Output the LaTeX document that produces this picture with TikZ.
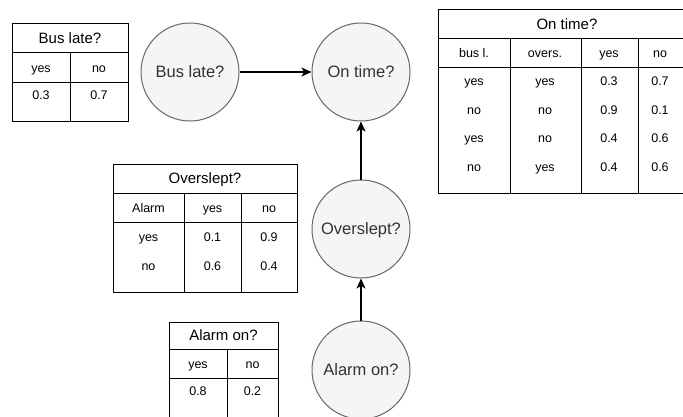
\documentclass[tikz,border=0pt]{standalone}
\usepackage{fontspec}
\setmainfont{Liberation Sans}
\usetikzlibrary{arrows.meta}

\tikzset{
    var/.style={circle, draw=black!60, line width=1pt, fill=black!4, minimum size=98pt, inner sep=0pt,
        text=black!80, text height=11.8pt, text depth=0pt, font=\fontsize{16.5}{18}\selectfont},
    link/.style={-{Stealth[length=10pt, width=9pt, inset=2.5pt]}, line width=1.1pt},
    tbl/.style={line width=1pt},
    ttl/.style={inner sep=0pt, text height=10.7pt, text depth=0pt, font=\fontsize{15}{17}\selectfont},
    cell/.style={inner sep=0pt, text height=9pt, text depth=0pt, font=\fontsize{12.5}{14}\selectfont}
}

\begin{document}
\begin{tikzpicture}[x=1pt, y=-1pt]
    \useasboundingbox (0, 0) rectangle (683, 416);

    % variables
    \node[var] (bus) at (190, 72) {Bus late?};
    \node[var] (ontime) at (361, 72) {On time?};
    \node[var] (overslept) at (361, 229) {Overslept?};
    \node[var] (alarm) at (361, 370) {Alarm on?};

    \draw[link] (bus) -- (ontime);
    \draw[link] (overslept) -- (ontime);
    \draw[link] (alarm) -- (overslept);

    % Bus late? table
    \draw[tbl] (12, 23) rectangle (128, 121);
    \draw[tbl] (12, 52) -- (128, 52) (12, 82) -- (128, 82) (70, 52) -- (70, 121);
    \node[ttl] (bus-t) at (70, 38) {Bus late?};
    \node[cell] (bus-h1) at (41, 67.5) {yes};
    \node[cell] (bus-h2) at (99, 67.5) {no};
    \node[cell] (bus-p1) at (41, 95) {0.3};
    \node[cell] (bus-p2) at (99, 95) {0.7};

    % On time? table
    \draw[tbl] (438, 9) rectangle (696, 193);
    \draw[tbl] (438, 38) -- (696, 38) (438, 67) -- (696, 67);
    \foreach \x in {510, 581, 638} {
        \draw[tbl] (\x, 38) -- (\x, 193);
    }
    \node[ttl] (ot-t) at (567, 24) {On time?};
    \node[cell] (ot-h1) at (474, 52.5) {bus l.};
    \node[cell] (ot-h2) at (545, 52.5) {overs.};
    \node[cell] (ot-h3) at (609, 52.5) {yes};
    \node[cell] (ot-h4) at (660, 52.5) {no};
    \foreach \b/\o/\p/\q [count=\i] in {yes/yes/0.3/0.7, no/no/0.9/0.1, yes/no/0.4/0.6, no/yes/0.4/0.6} {
        \node[cell] (ot-b\i) at (474, 52.5+28.5*\i) {\b};
        \node[cell] (ot-o\i) at (545, 52.5+28.5*\i) {\o};
        \node[cell] (ot-p\i) at (609, 52.5+28.5*\i) {\p};
        \node[cell] (ot-q\i) at (660, 52.5+28.5*\i) {\q};
    }

    % Overslept? table
    \draw[tbl] (113, 164) rectangle (297, 292);
    \draw[tbl] (113, 193) -- (297, 193) (113, 222) -- (297, 222);
    \draw[tbl] (184, 193) -- (184, 292) (241, 193) -- (241, 292);
    \node[ttl] (os-t) at (205, 178.5) {Overslept?};
    \node[cell] (os-h1) at (148.5, 208) {Alarm};
    \node[cell] (os-h2) at (212.5, 208) {yes};
    \node[cell] (os-h3) at (269, 208) {no};
    \foreach \a/\p/\q [count=\i] in {yes/0.1/0.9, no/0.6/0.4} {
        \node[cell] (os-a\i) at (148.5, 208+29*\i) {\a};
        \node[cell] (os-p\i) at (212.5, 208+29*\i) {\p};
        \node[cell] (os-q\i) at (269, 208+29*\i) {\q};
    }

    % Alarm on? table
    \draw[tbl] (169, 425) -- (169, 322) -- (278, 322) -- (278, 425);
    \draw[tbl] (169, 349) -- (278, 349) (169, 378) -- (278, 378) (227, 349) -- (227, 425);
    \node[ttl] (al-t) at (223.5, 335.5) {Alarm on?};
    \node[cell] (al-h1) at (198, 363.5) {yes};
    \node[cell] (al-h2) at (252.5, 363.5) {no};
    \node[cell] (al-p1) at (198, 391) {0.8};
    \node[cell] (al-p2) at (252.5, 391) {0.2};
\end{tikzpicture}
\end{document}
